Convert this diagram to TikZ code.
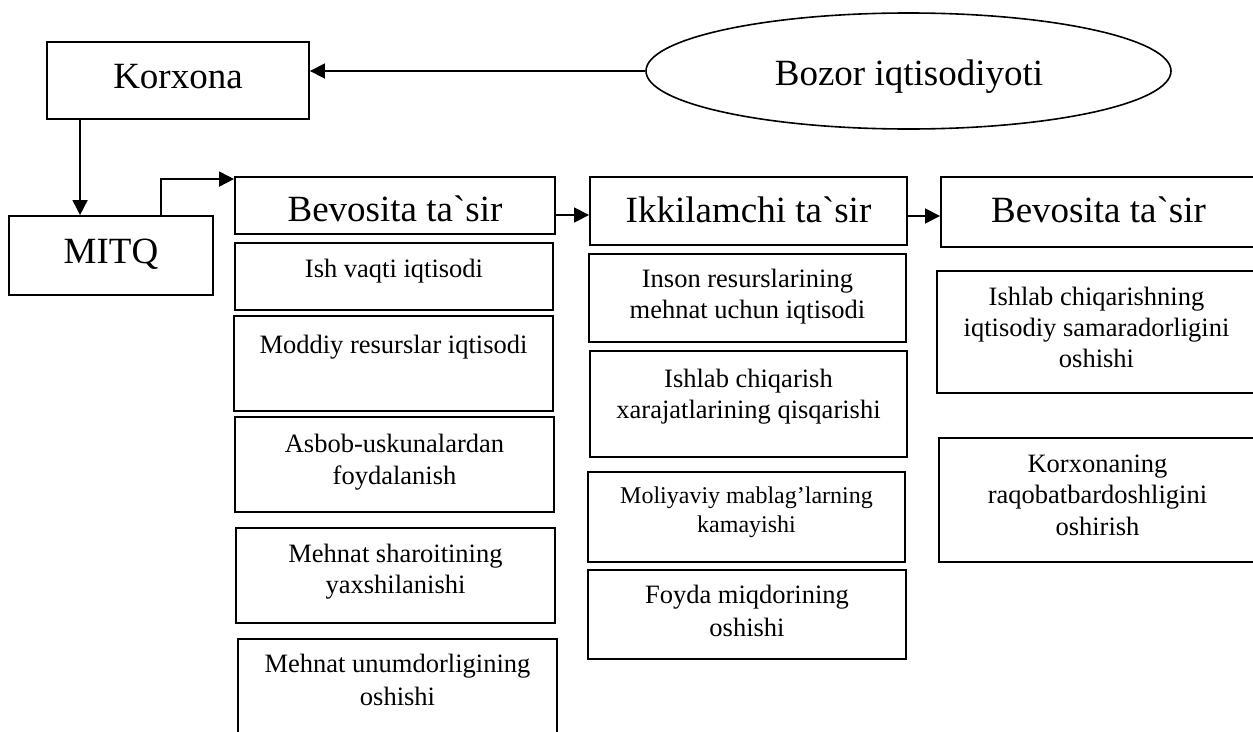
\documentclass[tikz,border=0pt]{standalone}
\usepackage{fontspec}
\setmainfont{Liberation Serif}[Ligatures=TeXOff]
\usetikzlibrary{arrows.meta,shapes.geometric,calc}
\tikzset{
  boxst/.style={draw, line width=1.9pt, inner sep=0pt, rectangle},
  lbl/.style={inner sep=0pt, align=center, font=\fontsize{26.5}{31.5}\selectfont},
  big/.style={font=\fontsize{37}{44}\selectfont},
  arr/.style={line width=1.8pt, -{Triangle[length=15pt,width=15pt]}},
}
% #1 text style, #2 name, #3 x1, #4 y1, #5 x2, #6 y2, #7 last-line baseline y, #8 text
\newcommand\bx[8][]{%
  \node[boxst, minimum width={(#5-#3)*1pt}, minimum height={(#6-#4)*1pt}] (#2) at ({(#3+#5)/2},{(#4+#6)/2}) {};
  \node[lbl,#1,anchor=base] (#2-t) at ({(#3+#5)/2},#7) {#8};}
\begin{document}
\begin{tikzpicture}[x=1pt,y=-1pt]
\useasboundingbox (0,0) rectangle (1253,731);
\clip (0,0) rectangle (1253,731);
% top row
\bx[big]{korx}{47}{42}{309}{119}{88}{Korxona}
\bx[big]{mitq}{9}{216}{213}{295}{263}{MITQ}
\node[draw, ellipse, line width=1.6pt, minimum width=525pt, minimum height=116pt, inner sep=0pt] (bozor) at (908.5,71) {};
\node[lbl,big,anchor=base] (bozor-t) at (909,85) {Bozor iqtisodiyoti};
% headers
\bx[big]{bev1}{235}{177}{555}{234}{221}{Bevosita ta`sir}
\bx[big]{ikk}{590}{177}{907}{245}{222}{Ikkilamchi ta`sir}
\bx[big]{bev2}{941}{177}{1256}{247}{222}{Bevosita ta`sir}
% left column
\bx{l1}{235}{243}{553}{310}{277}{Ish vaqti iqtisodi}
\bx{l2}{234}{316}{553}{411}{353}{Moddiy resurslar iqtisodi}
\bx[font=\fontsize{26.5}{32}\selectfont]{l3}{235}{417}{554}{512}{484}{Asbob-uskunalardan\\foydalanish}
\bx[font=\fontsize{26.5}{31}\selectfont]{l4}{236}{528}{555}{623}{593}{Mehnat sharoitining\\yaxshilanishi}
\bx[font=\fontsize{26.5}{33}\selectfont]{l5}{238}{639}{557}{760}{705}{Mehnat unumdorligining\\oshishi}
% middle column
\bx[font=\fontsize{26.5}{31}\selectfont]{m1}{589}{254}{906}{342}{318}{Inson resurslarining\\mehnat uchun iqtisodi}
\bx[font=\fontsize{26.5}{31}\selectfont]{m2}{590}{351}{907}{457}{418}{Ishlab chiqarish\\xarajatlarining qisqarishi}
\bx[font=\fontsize{24}{29}\selectfont]{m3}{588}{472}{905}{562}{532}{Moliyaviy mablag’larning\\kamayishi}
\bx[font=\fontsize{26.5}{33}\selectfont]{m4}{588}{570}{906}{659}{636}{Foyda miqdorining\\oshishi}
% right column
\bx[font=\fontsize{26.5}{31}\selectfont]{r1}{937}{271}{1256}{393}{367}{Ishlab chiqarishning\\iqtisodiy samaradorligini\\oshishi}
\bx{r2}{939}{438}{1256}{562}{535}{Korxonaning\\raqobatbardoshligini\\oshirish}
% connectors
\draw[arr] (bozor.west) -- (bozor.west -| korx.east);
\coordinate (k1) at ([xshift=34pt]korx.south west);
\draw[arr] (k1) -- (k1 |- mitq.north);
\coordinate (m1s) at ([xshift=153pt]mitq.north west);
\draw[arr] (m1s) |- ([yshift=-3pt]bev1.north west);
\coordinate (b1) at ([yshift=-9.5pt]bev1.east);
\draw[arr] (b1) -- (b1 -| ikk.west);
\coordinate (b2) at ([yshift=-5pt]ikk.east);
\draw[arr] (b2) -- (b2 -| bev2.west);
\end{tikzpicture}
\end{document}
